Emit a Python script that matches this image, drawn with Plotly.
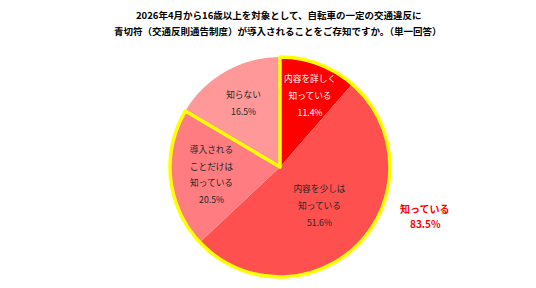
import plotly.graph_objects as go

TITLE_LINES = [
    "2026年4月から16歳以上を対象として、自転車の一定の交通違反に",
    "青切符（交通反則通告制度）が導入されることをご存知ですか。（単一回答）",
]
LABELS = ["内容を詳しく<br>知っている", "内容を少しは<br>知っている", "導入される<br>ことだけは<br>知っている", "知らない"]
VALUES = [11.4, 51.6, 20.5, 16.5]
COLORS = ["#FF0000", "#FF5050", "#FF7C80", "#FF9999"]
TEXT_COLORS = ["#FFFFFF", "#262626", "#262626", "#262626"]
KNOW_LABEL = "知っている"
KNOW_TOTAL = round(sum(VALUES[:3]), 1)

FONT = "Noto Sans CJK JP"


def small(s):
    return "<br>".join(f"<span style='font-size:8.7px'>{ln}</span>" for ln in s.split("<br>"))


texts = [small(f"{l}<br>{v:.1f}%") for l, v in zip(LABELS, VALUES)]
# the narrow first slice gets its label as an annotation (plotly would shrink it)
first_label = texts[0]
texts[0] = ""

dom = dict(x=[170 / 536, 390 / 536], y=[11 / 288, 231 / 288])

fig = go.Figure()
fig.add_trace(go.Pie(
    labels=[l.replace("<br>", "") for l in LABELS], values=VALUES, sort=False, direction="clockwise",
    rotation=0, marker=dict(colors=COLORS, line=dict(width=0)),
    text=texts, textinfo="text", textposition="inside", insidetextorientation="horizontal",
    textfont=dict(family=FONT, size=13, color=TEXT_COLORS),
    domain=dom, showlegend=False, hoverinfo="skip",
))
fig.add_trace(go.Pie(
    labels=[KNOW_LABEL, "知らない"], values=[KNOW_TOTAL, VALUES[3]], sort=False, direction="clockwise",
    rotation=0, marker=dict(colors=["rgba(0,0,0,0)", "rgba(0,0,0,0)"],
                            line=dict(color=["#FFFF00", "rgba(0,0,0,0)"], width=[3.5, 0])),
    textinfo="none", domain=dom, showlegend=False, hoverinfo="skip",
))

fig.add_annotation(text=first_label, x=310 / 536, y=1 - 95 / 288, xref="paper", yref="paper",
                   showarrow=False, xanchor="center", yanchor="middle", align="center",
                   font=dict(family=FONT, size=13, color=TEXT_COLORS[0]))

texts_ann = [
    (f"<b>{TITLE_LINES[0]}</b>", 278, 15, 9.5, "#000000"),
    (f"<b>{TITLE_LINES[1]}</b>", 278, 31, 9.5, "#000000"),
    (f"<b>{KNOW_LABEL}</b>", 425, 208, 10, "#FF0000"),
    (f"<b>{KNOW_TOTAL:.1f}%</b>", 425, 223, 10, "#FF0000"),
]
for t, x, y, s, c in texts_ann:
    fig.add_annotation(text=t, x=x / 536, y=1 - y / 288, xref="paper", yref="paper", showarrow=False,
                       xanchor="center", yanchor="middle", font=dict(family=FONT, size=s, color=c))

fig.update_layout(width=536, height=288, margin=dict(l=0, r=0, t=0, b=0),
                  paper_bgcolor="white", plot_bgcolor="white")
fig.write_html("out.html")
